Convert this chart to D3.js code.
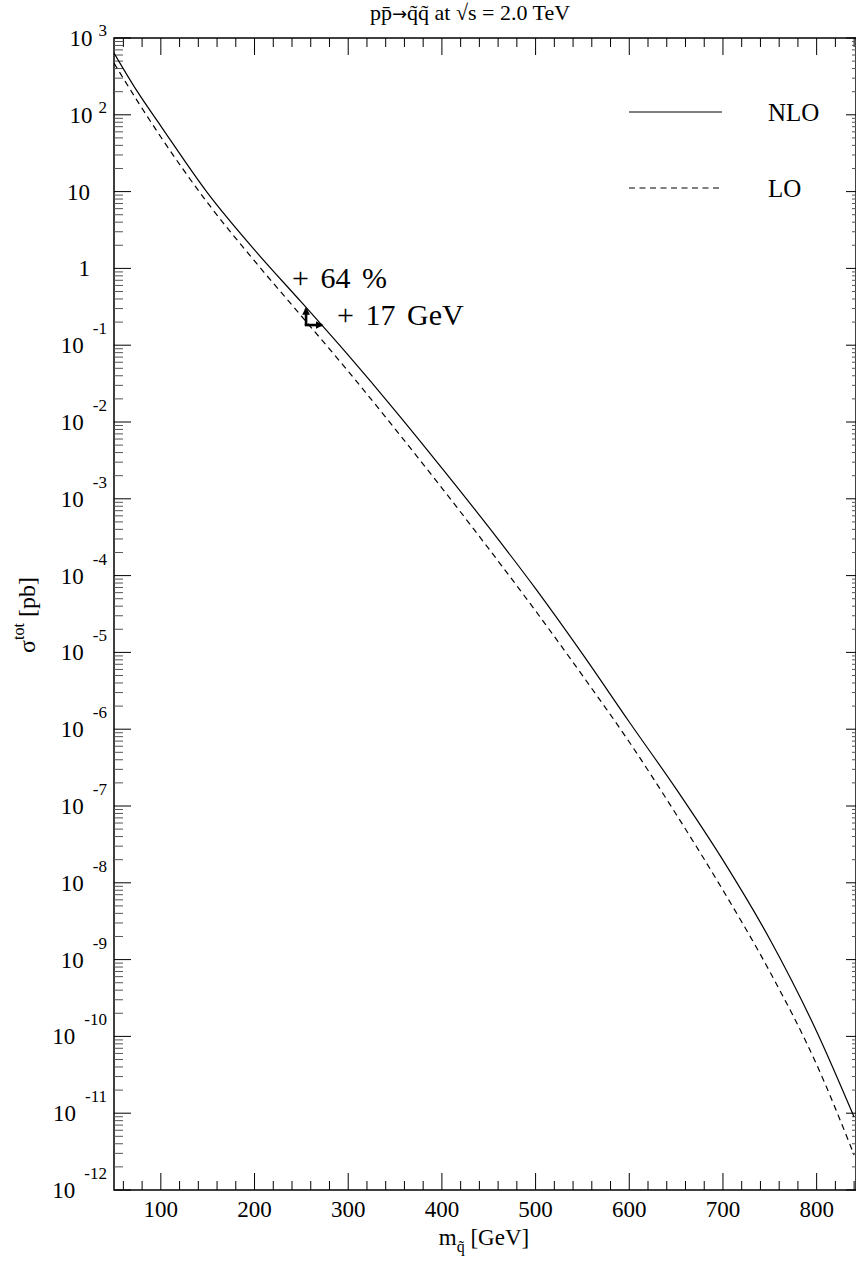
<!DOCTYPE html>
<html>
<head>
<meta charset="utf-8">
<script src="https://cdn.jsdelivr.net/npm/d3@7"></script>
<style>
  body { margin: 0; background: #fff; }
  svg { display: block; }
  text { font-family: "Liberation Serif", "Times New Roman", serif; fill: #000; }
</style>
</head>
<body>
<svg width="856" height="1268"></svg>
<script>
// squark mass [GeV]
const masses = [50, 75, 100, 150, 200, 250, 300, 350, 400, 450, 500, 550, 600, 650, 700, 750, 800, 840];
// sigma tot [pb]
const nlo = [638, 200, 71.4, 9.55, 1.74, 0.363, 0.0741, 0.0141, 2.51e-3, 4.27e-4, 6.76e-5, 9.55e-6,
             1.24e-6, 1.67e-7, 1.97e-8, 1.84e-9, 1.16e-10, 8.9e-12];
const lo = [472, 151, 51.4, 7.11, 1.25, 0.24, 0.0457, 8.13e-3, 1.38e-3, 2.24e-4, 3.47e-5, 5.01e-6,
            6.81e-7, 7.82e-8, 8.0e-9, 6.97e-10, 4.30e-11, 2.86e-12];
const seriesNames = ["NLO", "LO"];

const xTicks = [100, 200, 300, 400, 500, 600, 700, 800];
const decades = d3.range(-12, 4);

// annotation: mass shift and cross section gain
const arrowMass = 255, arrowSigma = 0.183, massShift = 17, sigmaGain = 0.64;

const svg = d3.select("svg");
const pLeft = 114, pRight = 856, pTop = 38, pBottom = 1190;

const x = d3.scaleLinear().domain([50, 842]).range([pLeft, pRight]);
const y = d3.scaleLog().domain([1e3, 1e-12]).range([pTop, pBottom]);

const g = svg.append("g");

// frame
g.append("rect")
    .attr("x", pLeft).attr("y", pTop)
    .attr("width", pRight - pLeft).attr("height", pBottom - pTop)
    .attr("fill", "none").attr("stroke", "#000").attr("stroke-width", 1.5);

// x ticks, bottom and top, pointing inward
const xMinor = d3.range(60, 842, 20).filter(v => v % 100 !== 0);
const tickG = g.append("g").attr("stroke", "#000").attr("stroke-width", 1);
xTicks.forEach(v => {
    tickG.append("line").attr("x1", x(v)).attr("x2", x(v)).attr("y1", pBottom).attr("y2", pBottom - 17);
    tickG.append("line").attr("x1", x(v)).attr("x2", x(v)).attr("y1", pTop).attr("y2", pTop + 17);
});
xMinor.forEach(v => {
    tickG.append("line").attr("x1", x(v)).attr("x2", x(v)).attr("y1", pBottom).attr("y2", pBottom - 9);
    tickG.append("line").attr("x1", x(v)).attr("x2", x(v)).attr("y1", pTop).attr("y2", pTop + 9);
});

// y ticks
decades.forEach(k => {
    const v = Math.pow(10, k);
    tickG.append("line").attr("x1", pLeft).attr("x2", pLeft + 17).attr("y1", y(v)).attr("y2", y(v));
    tickG.append("line").attr("x1", pRight).attr("x2", pRight - 10).attr("y1", y(v)).attr("y2", y(v));
    if (k === 3) return;
    for (let j = 2; j <= 9; j++) {
        tickG.append("line").attr("x1", pLeft).attr("x2", pLeft + 9)
            .attr("y1", y(j * v)).attr("y2", y(j * v)).attr("stroke", "#555");
        tickG.append("line").attr("x1", pRight).attr("x2", pRight - 4)
            .attr("y1", y(j * v)).attr("y2", y(j * v)).attr("stroke", "#555");
    }
});

// x tick labels
g.append("g").selectAll("text")
    .data(xTicks)
    .enter()
    .append("text")
    .attr("x", d => x(d))
    .attr("y", pBottom + 27)
    .attr("text-anchor", "middle")
    .attr("font-size", 23)
    .text(d => d);

// y tick labels: 10 with exponent
const yLab = g.append("g");
decades.forEach(k => {
    const v = Math.pow(10, k);
    if (k === 0 || k === 1) {
        yLab.append("text")
            .attr("x", 90).attr("y", y(v) + 8)
            .attr("text-anchor", "end").attr("font-size", 23)
            .text(k === 0 ? "1" : "10");
        return;
    }
    const t = yLab.append("text")
        .attr("x", 107).attr("y", y(v) + 8)
        .attr("text-anchor", "end").attr("font-size", 23)
        .text("10");
    t.append("tspan")
        .attr("dx", k > 0 ? 6 : 9)
        .attr("dy", k > 0 ? -10 : -19)
        .attr("font-size", 17)
        .text(k > 0 ? String(k) : "-" + (-k));
});

// curves
const line = d3.line()
    .x(d => x(d[0]))
    .y(d => y(d[1]))
    .curve(d3.curveMonotoneX);

svg.append("clipPath").attr("id", "plotclip")
    .append("rect").attr("x", pLeft).attr("y", pTop).attr("width", pRight - pLeft).attr("height", pBottom - pTop);

g.append("path")
    .datum(masses.map((m, i) => [m, nlo[i]]))
    .attr("d", line)
    .attr("clip-path", "url(#plotclip)")
    .attr("fill", "none")
    .attr("stroke", "#000")
    .attr("stroke-width", 1.2);

g.append("path")
    .datum(masses.map((m, i) => [m, lo[i]]))
    .attr("d", line)
    .attr("clip-path", "url(#plotclip)")
    .attr("fill", "none")
    .attr("stroke", "#000")
    .attr("stroke-width", 1.2)
    .attr("stroke-dasharray", "6,4.5");

// legend
const legend = g.append("g");
seriesNames.forEach((name, i) => {
    const ly = 112 + i * 76;
    legend.append("line")
        .attr("x1", 629).attr("x2", 722).attr("y1", ly).attr("y2", ly)
        .attr("stroke", "#000").attr("stroke-width", 1)
        .attr("stroke-dasharray", i === 1 ? "6,4.5" : null);
    legend.append("text")
        .attr("x", 768).attr("y", ly + 9)
        .attr("font-size", 25)
        .text(name);
});

// arrows
svg.append("defs").append("marker")
    .attr("id", "head")
    .attr("viewBox", "0 -5 10 10")
    .attr("refX", 8)
    .attr("refY", 0)
    .attr("markerWidth", 3)
    .attr("markerHeight", 3)
    .attr("orient", "auto")
    .append("path")
    .attr("d", "M0,-5L10,0L0,5Z")
    .attr("fill", "#000");

const ax = x(arrowMass), ay = y(arrowSigma);
g.append("line")
    .attr("x1", ax).attr("y1", ay)
    .attr("x2", ax).attr("y2", y(arrowSigma * (1 + sigmaGain)))
    .attr("stroke", "#000").attr("stroke-width", 2.6)
    .attr("marker-end", "url(#head)");
g.append("line")
    .attr("x1", ax - 1.3).attr("y1", ay)
    .attr("x2", x(arrowMass + massShift)).attr("y2", ay)
    .attr("stroke", "#000").attr("stroke-width", 2.6)
    .attr("marker-end", "url(#head)");

g.append("text")
    .attr("x", ax - 14).attr("y", ay - 37)
    .attr("font-size", 30)
    .attr("word-spacing", 4)
    .text("+ " + Math.round(sigmaGain * 100) + " %");
g.append("text")
    .attr("x", ax + 31).attr("y", ay)
    .attr("font-size", 30)
    .attr("word-spacing", 4)
    .text("+ " + massShift + " GeV");

// title
const title = g.append("text")
    .attr("x", 470).attr("y", 20)
    .attr("text-anchor", "middle")
    .attr("font-size", 22)
    .text("pp\u0304");
title.append("tspan").style("font-family", "'DejaVu Sans', sans-serif").attr("font-size", 18).text("\u2192");
title.append("tspan").text("q\u0303q\u0303 at \u221As = 2.0 TeV");

// axis titles
const xt = g.append("text")
    .attr("x", 484).attr("y", 1245)
    .attr("text-anchor", "middle")
    .attr("font-size", 23)
    .text("m");
xt.append("tspan").attr("dy", 7).attr("font-size", 16).text("q\u0303");
xt.append("tspan").attr("dy", -7).text(" [GeV]");

const yt = g.append("text")
    .attr("transform", "translate(35,615) rotate(-90)")
    .attr("text-anchor", "middle")
    .attr("font-size", 24)
    .text("\u03c3");
yt.append("tspan").attr("dy", -11).attr("font-size", 16).text("tot");
yt.append("tspan").attr("dy", 11).text(" [pb]");
</script>
</body>
</html>
